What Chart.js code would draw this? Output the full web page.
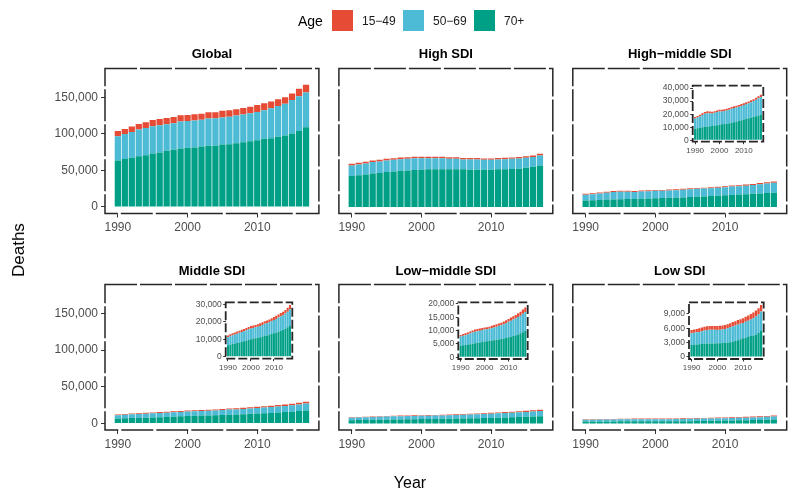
<!DOCTYPE html>
<html><head><meta charset="utf-8">
<script src="https://cdn.jsdelivr.net/npm/chart.js@4/dist/chart.umd.min.js"></script>
<style>
html,body{margin:0;padding:0;background:#fff;}
body{width:800px;height:499px;overflow:hidden;position:relative;font-family:"Liberation Sans",Arial,Helvetica,sans-serif;}
canvas{position:absolute;left:0;top:0;}
.txt{position:absolute;white-space:nowrap;transform:translate(-50%,-50%);}
.ptitle{font-weight:bold;font-size:13px;color:#000;}
.key{position:absolute;width:21px;height:21px;}
.lab{position:absolute;font-size:12px;color:#1a1a1a;transform:translateY(-50%);}
</style></head>
<body>
<script>
// ---------------- DATA ----------------
const years = [1990,1991,1992,1993,1994,1995,1996,1997,1998,1999,2000,2001,2002,2003,2004,2005,2006,2007,2008,2009,2010,2011,2012,2013,2014,2015,2016,2017];
const ageGroups = ['15−49','50−69','70+'];
const panelTitles = ['Global','High SDI','High−middle SDI','Middle SDI','Low−middle SDI','Low SDI'];
const xTickLabels = [1990,2000,2010];
const mainYTicks = [0,50000,100000,150000];

const global_70 = [63600,65500,67300,69500,70900,73200,74500,76800,78200,80000,80900,81400,82700,83600,83600,85400,85900,87300,88600,90000,91400,93200,94100,95900,97700,100500,104100,109000];
const global_50_69 = [33200,34500,35400,36400,37300,37200,37300,36400,36300,36800,36800,36800,36800,37300,37800,36900,37700,37700,37800,38200,38600,39100,40900,42300,43700,45900,47300,47800];
const global_15_49 = [7300,6800,7300,7700,7700,8700,8700,8600,8700,8700,8200,8600,8200,8600,8100,9500,8700,8600,9000,9100,9500,9500,9500,9100,8600,9000,10400,10500];

const high_70 = [42300,43200,44500,45900,46400,47700,48600,49500,50000,50500,50900,51400,51400,51400,51400,51400,51400,50900,50900,50900,50900,51400,51400,51800,52300,53600,55000,56800];
const high_50_69 = [14500,15000,15000,15500,15900,15900,15900,15900,15900,16300,15900,15400,15400,15400,14500,14500,13600,14100,14100,13600,13600,13600,14000,14100,14100,13700,13200,13600];
const high_15_49 = [2300,2300,2400,2300,2300,2300,2200,2100,2100,2000,2000,2000,2000,2000,2000,2000,1900,1900,1900,1900,1900,1900,1900,1900,1900,2000,2100,2300];

const highmid_70 = [8900,9200,9600,10000,10300,10600,10800,11000,11300,11600,11900,12200,12400,12700,13000,13400,13800,14300,14900,15400,15900,16400,16900,17400,17900,18500,19000,19500];
const highmid_50_69 = [7800,8200,8700,9400,10000,10200,9900,9500,9700,10000,10100,9800,10000,10200,10400,10700,10900,10800,10800,10900,11100,11400,11500,11700,12100,12600,13200,13700];
const highmid_15_49 = [1200,1200,1300,1300,1400,1400,1300,1300,1300,1300,1300,1300,1300,1300,1300,1300,1300,1300,1300,1400,1400,1400,1400,1500,1500,1500,1600,1600];

const mid_70 = [6600,6900,7200,7500,7800,8100,8400,8800,9200,9600,10000,10300,10600,10900,11200,11500,11900,12200,12600,13000,13400,13800,14300,14800,15400,16000,16800,17600];
const mid_50_69 = [4500,4800,5100,5200,5400,5600,5700,5800,6000,6100,6200,6200,6200,6300,6400,6700,6900,6900,7100,7300,7600,7800,8100,8300,8400,8700,9000,9600];
const mid_15_49 = [1100,1100,1100,1200,1200,1200,1300,1300,1300,1300,1400,1400,1400,1400,1500,1500,1500,1600,1600,1700,1700,1800,1800,1900,2000,2100,2200,2400];

const lowmid_70 = [4400,4500,4600,4800,4900,5100,5300,5400,5600,5700,5900,6000,6100,6300,6400,6600,6700,6900,7000,7200,7500,7700,8000,8300,8600,9000,9400,9900];
const lowmid_50_69 = [3400,3600,3700,3800,4100,4200,4300,4400,4400,4500,4500,4500,4600,4600,4800,4900,5100,5100,5400,5600,5800,6000,6200,6300,6500,6600,6900,7100];
const lowmid_15_49 = [600,600,700,700,700,800,800,800,800,800,800,800,800,900,900,900,900,1000,1000,1100,1100,1200,1200,1300,1400,1500,1600,1700];

const low_70 = [2500,2550,2600,2650,2700,2750,2800,2800,2820,2840,2860,2900,2950,3000,3030,3070,3200,3350,3500,3700,3900,4050,4200,4400,4500,4600,5000,5440];
const low_50_69 = [2450,2500,2560,2600,2700,2800,2850,2900,2880,2860,2790,2800,2800,2850,2970,3130,3200,3250,3300,3250,3200,3300,3400,3450,3600,3850,3900,4060];
const low_15_49 = [700,700,700,750,750,800,800,800,800,800,850,850,850,850,850,850,900,900,950,950,1000,1050,1100,1150,1200,1250,1300,1400];

const highmidInsetTicks = [0,10000,20000,30000,40000];
const midInsetTicks = [0,10000,20000,30000];
const lowmidInsetTicks = [0,5000,10000,15000,20000];
const lowInsetTicks = [0,3000,6000,9000];

// ---------------- STYLE / LAYOUT ----------------
const FONT = '"Liberation Sans", Arial, Helvetica, sans-serif';
const COLORS = {'15−49':'#E64B35','50−69':'#4DBBD5','70+':'#00A087'};

function fmt(v){ return String(v).replace(/\B(?=(\d{3})+(?!\d))/g, ','); }

const framePlugin = {
  id: 'frame',
  afterDraw(chart, args, o) {
    const a = chart.chartArea, ctx = chart.ctx;
    ctx.save();
    ctx.strokeStyle = o.color; ctx.lineWidth = o.width; ctx.setLineDash(o.dash);
    ctx.strokeRect(a.left, a.top, a.right - a.left, a.bottom - a.top);
    ctx.restore();
  }
};

function zeroPad(s){ s.paddingLeft = 0; s.paddingRight = 0; s.paddingTop = 0; s.paddingBottom = 0; }

function makeChart(series, g) {
  const canvas = document.createElement('canvas');
  canvas.width = 800; canvas.height = 499;
  document.body.appendChild(canvas);
  const ds = [
    {label:'70+', data: years.map((x,i)=>({x, y: series[2][i]})), backgroundColor: COLORS['70+']},
    {label:'50−69', data: years.map((x,i)=>({x, y: series[1][i]})), backgroundColor: COLORS['50−69']},
    {label:'15−49', data: years.map((x,i)=>({x, y: series[0][i]})), backgroundColor: COLORS['15−49']}
  ];
  new Chart(canvas, {
    type: 'bar',
    data: { datasets: ds },
    options: {
      responsive: false, animation: false, devicePixelRatio: 1,
      layout: { padding: { left: g.L - g.yw, top: g.T, right: 800 - g.R, bottom: 499 - g.B - g.xh } },
      plugins: { legend: {display:false}, tooltip: {enabled:false},
                 frame: { color: '#262626', width: g.lw, dash: g.dash } },
      datasets: { bar: { barPercentage: 0.9, categoryPercentage: 1, borderWidth: 0 } },
      scales: {
        x: { type: 'linear', stacked: true, min: g.xmin, max: g.xmax, offset: false,
             afterBuildTicks: s => { s.ticks = xTickLabels.map(v => ({value: v})); },
             afterFit: s => { s.height = g.xh; zeroPad(s); },
             grid: { offset: false, drawOnChartArea: false, drawTicks: true, tickLength: g.tick, color: '#333', lineWidth: 1 },
             border: { display: false },
             ticks: { font: {family: FONT, size: g.fsx}, color: '#4d4d4d', padding: g.pad, autoSkip: false, maxRotation: 0, minRotation: 0, callback: v => String(v) } },
        y: { type: 'linear', stacked: true, min: g.ymin, max: g.ymax,
             afterBuildTicks: s => { s.ticks = g.yticks.map(v => ({value: v})); },
             afterFit: s => { s.width = g.yw; zeroPad(s); },
             grid: { display: g.showY, drawOnChartArea: false, drawTicks: true, tickLength: g.tick, color: '#333', lineWidth: 1 },
             border: { display: false },
             ticks: { display: g.showY, font: {family: FONT, size: g.fsy}, color: '#4d4d4d', padding: g.pad, callback: v => fmt(v) } }
      }
    },
    plugins: [framePlugin]
  });
}

const colX = [[105,318.9],[338.9,552.8],[572.8,786.7]];
const rowY = [[68.5,213.5],[284.5,430]];
const mainSeries = [
  [global_15_49, global_50_69, global_70],
  [high_15_49, high_50_69, high_70],
  [highmid_15_49, highmid_50_69, highmid_70],
  [mid_15_49, mid_50_69, mid_70],
  [lowmid_15_49, lowmid_50_69, lowmid_70],
  [low_15_49, low_50_69, low_70]
];

mainSeries.forEach((s, k) => {
  const c = k % 3, r = Math.floor(k / 3);
  makeChart(s, { L: colX[c][0], R: colX[c][1], T: rowY[r][0], B: rowY[r][1],
    yw: c === 0 ? 80 : 10, xh: 22, xmin: 1988.155, xmax: 2018.845, ymin: -9025, ymax: 189525,
    yticks: mainYTicks, showY: c === 0, fsx: 12, fsy: 12, tick: 4, pad: 3, lw: 1.5, dash: [32, 3] });
  const t = document.createElement('div');
  t.className = 'txt ptitle';
  t.textContent = panelTitles[k];
  t.style.left = ((colX[c][0] + colX[c][1]) / 2) + 'px';
  t.style.top = (r === 0 ? 53 : 269.5) + 'px';
  document.body.appendChild(t);
});

const insets = [
  { s: mainSeries[2], L: 692.7, R: 763.3, T: 85.7, B: 141.7, ymin: -1070, ymax: 41800, yticks: highmidInsetTicks },
  { s: mainSeries[3], L: 225.7, R: 292.3, T: 302.3, B: 358.7, ymin: -1150, ymax: 31150, yticks: midInsetTicks },
  { s: mainSeries[4], L: 458.3, R: 527.7, T: 302.3, B: 359, ymin: -625, ymax: 20625, yticks: lowmidInsetTicks },
  { s: mainSeries[5], L: 689, R: 763.7, T: 302.3, B: 359, ymin: -420, ymax: 11440, yticks: lowInsetTicks }
];
insets.forEach(i => {
  makeChart(i.s, { L: i.L, R: i.R, T: i.T, B: i.B, yw: 40, xh: 16, xmin: 1989.0, xmax: 2018.0,
    ymin: i.ymin, ymax: i.ymax, yticks: i.yticks, showY: true, fsx: 8, fsy: 8.5, tick: 2.5, pad: 1.5, lw: 1.8, dash: [9, 3] });
});

// legend
function addText(cls, txt, x, y, extra) {
  const d = document.createElement('div');
  d.className = cls; d.textContent = txt;
  d.style.left = x + 'px'; d.style.top = y + 'px';
  if (extra) Object.assign(d.style, extra);
  document.body.appendChild(d);
}
addText('lab', 'Age', 298, 21, {fontSize: '14px', color: '#000'});
const keyX = [332, 403, 474];
ageGroups.forEach((a, i) => {
  const k = document.createElement('div');
  k.className = 'key'; k.style.left = keyX[i] + 'px'; k.style.top = '10px';
  k.style.background = COLORS[a];
  document.body.appendChild(k);
  addText('lab', a, keyX[i] + 30, 21);
});
addText('txt', 'Deaths', 19, 250, {fontSize: '17px', color: '#000', transform: 'translate(-50%,-50%) rotate(-90deg)'});
addText('txt', 'Year', 410, 483, {fontSize: '16px', color: '#000'});
</script>
</body></html>
